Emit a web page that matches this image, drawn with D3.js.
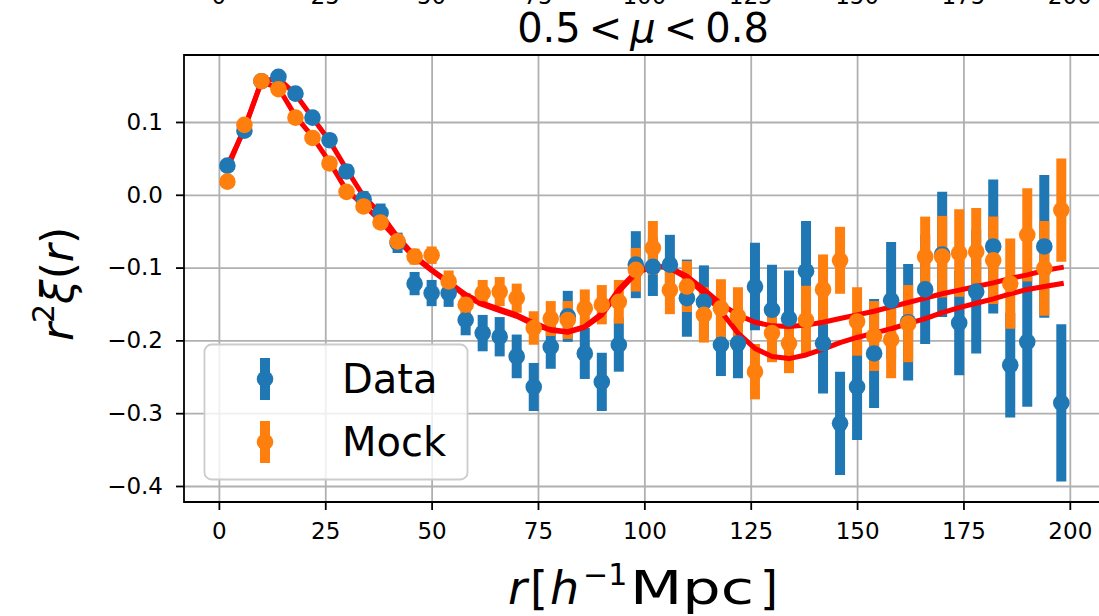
<!DOCTYPE html>
<html>
<head>
<meta charset="utf-8">
<script src="https://cdn.jsdelivr.net/npm/d3@7"></script>
<style>
  html, body { margin: 0; padding: 0; background: #ffffff; }
  svg { display: block; font-family: "DejaVu Sans", sans-serif; }
</style>
</head>
<body>
<svg id="chart" width="1099" height="616"></svg>
<script>
// Separation bins (h^-1 Mpc)
const rBins = [2, 6, 10, 14, 18, 22, 26, 30, 34, 38, 42, 46, 50, 54, 58, 62, 66, 70, 74, 78,
               82, 86, 90, 94, 98, 102, 106, 110, 114, 118, 122, 126, 130, 134, 138, 142, 146, 150, 154, 158,
               162, 166, 170, 174, 178, 182, 186, 190, 194, 198];

// Measured r^2 xi(r) and 1-sigma errors
const dataValues = [0.040, 0.088, 0.156, 0.162, 0.139, 0.106, 0.075, 0.032, -0.006, -0.025,
                    -0.066, -0.122, -0.135, -0.135, -0.172, -0.190, -0.195, -0.222, -0.264, -0.209,
                    -0.167, -0.218, -0.257, -0.206, -0.096, -0.099, -0.096, -0.142, -0.147, -0.206,
                    -0.204, -0.126, -0.158, -0.170, -0.105, -0.204, -0.314, -0.264, -0.218, -0.145,
                    -0.175, -0.130, -0.082, -0.176, -0.133, -0.071, -0.234, -0.202, -0.071, -0.286];
const dataErrors = [0.004, 0.005, 0.006, 0.006, 0.007, 0.008, 0.009, 0.010, 0.011, 0.013,
                    0.014, 0.016, 0.018, 0.019, 0.021, 0.025, 0.027, 0.030, 0.033, 0.030,
                    0.035, 0.035, 0.040, 0.037, 0.046, 0.040, 0.041, 0.053, 0.050, 0.043,
                    0.048, 0.060, 0.062, 0.066, 0.069, 0.069, 0.071, 0.073, 0.075, 0.080,
                    0.080, 0.075, 0.086, 0.072, 0.085, 0.092, 0.072, 0.089, 0.098, 0.108];

// Mock catalogue mean and errors
const mockValues = [0.018, 0.096, 0.156, 0.145, 0.106, 0.078, 0.043, 0.004, -0.016, -0.038,
                    -0.064, -0.085, -0.083, -0.119, -0.151, -0.135, -0.133, -0.142, -0.183, -0.170,
                    -0.172, -0.156, -0.151, -0.147, -0.103, -0.073, -0.131, -0.126, -0.165, -0.156,
                    -0.167, -0.243, -0.190, -0.204, -0.172, -0.130, -0.090, -0.174, -0.194, -0.199,
                    -0.177, -0.085, -0.085, -0.080, -0.078, -0.090, -0.122, -0.055, -0.101, -0.021];
const mockErrors = [0.003, 0.004, 0.004, 0.005, 0.005, 0.006, 0.006, 0.007, 0.008, 0.009,
                    0.010, 0.011, 0.012, 0.015, 0.016, 0.018, 0.020, 0.020, 0.023, 0.024,
                    0.026, 0.026, 0.027, 0.030, 0.030, 0.037, 0.033, 0.035, 0.038, 0.040,
                    0.040, 0.038, 0.040, 0.041, 0.047, 0.048, 0.046, 0.047, 0.048, 0.053,
                    0.053, 0.055, 0.056, 0.060, 0.060, 0.060, 0.062, 0.064, 0.065, 0.071];

// Best-fit model curves
const modelData = [0.040, 0.090, 0.156, 0.160, 0.138, 0.106, 0.074, 0.035, -0.002, -0.026,
                   -0.058, -0.084, -0.103, -0.120, -0.137, -0.149, -0.157, -0.165, -0.176, -0.185,
                   -0.188, -0.181, -0.163, -0.130, -0.106, -0.097, -0.101, -0.114, -0.135, -0.160,
                   -0.190, -0.211, -0.222, -0.225, -0.220, -0.212, -0.203, -0.196, -0.190, -0.184,
                   -0.177, -0.170, -0.162, -0.155, -0.149, -0.143, -0.136, -0.130, -0.126, -0.122];
const modelMock = [0.036, 0.092, 0.155, 0.147, 0.108, 0.080, 0.045, 0.006, -0.014, -0.036,
                   -0.062, -0.086, -0.104, -0.121, -0.139, -0.151, -0.159, -0.167, -0.178, -0.186,
                   -0.189, -0.182, -0.165, -0.133, -0.108, -0.098, -0.100, -0.112, -0.130, -0.150,
                   -0.165, -0.175, -0.180, -0.181, -0.179, -0.175, -0.170, -0.165, -0.160, -0.154,
                   -0.148, -0.142, -0.136, -0.131, -0.126, -0.121, -0.115, -0.110, -0.104, -0.100];

const xTicks = [0, 25, 50, 75, 100, 125, 150, 175, 200];
const yTicks = [-0.4, -0.3, -0.2, -0.1, 0.0, 0.1];
const seriesNames = ["Data", "Mock"];

const BLUE = "#1f77b4", ORANGE = "#ff7f0e", RED = "#ff0000";
const FONT = "DejaVu Sans";

const svg = d3.select("#chart");
const plot = { left: 184, right: 1103, top: 55, bottom: 502 };

const x = d3.scaleLinear().domain([-8.2, 207.8]).range([plot.left, plot.right]);
const y = d3.scaleLinear().domain([-0.422, 0.192]).range([plot.bottom, plot.top]);

svg.append("rect").attr("width", 1099).attr("height", 616).attr("fill", "#ffffff");

// Tick labels of the panel above, cut by the top edge
svg.append("g").selectAll("text").data(xTicks).join("text")
  .attr("x", d => x(d)).attr("y", 3.5)
  .attr("text-anchor", "middle")
  .attr("font-family", FONT).attr("font-size", 23).attr("fill", "#000")
  .text(d => d);

svg.append("defs").append("clipPath").attr("id", "clip")
  .append("rect")
  .attr("x", plot.left).attr("y", plot.top)
  .attr("width", plot.right - plot.left).attr("height", plot.bottom - plot.top);

// Grid
const grid = svg.append("g");
grid.append("g")
  .attr("transform", `translate(0,${plot.bottom})`)
  .call(d3.axisBottom(x).tickValues(xTicks).tickSize(-(plot.bottom - plot.top)).tickFormat(""))
  .call(g => g.select(".domain").remove())
  .call(g => g.selectAll("line").attr("stroke", "#b0b0b0").attr("stroke-width", 1.8));
grid.append("g")
  .attr("transform", `translate(${plot.left},0)`)
  .call(d3.axisLeft(y).tickValues(yTicks).tickSize(-(plot.right - plot.left)).tickFormat(""))
  .call(g => g.select(".domain").remove())
  .call(g => g.selectAll("line").attr("stroke", "#b0b0b0").attr("stroke-width", 1.8));

const marks = svg.append("g").attr("clip-path", "url(#clip)");

const dataPts = rBins.map((r, i) => ({ r, v: dataValues[i], e: dataErrors[i] }));
const mockPts = rBins.map((r, i) => ({ r, v: mockValues[i], e: mockErrors[i] }));

function errorBars(pts, color) {
  marks.append("g").selectAll("line").data(pts).join("line")
    .attr("x1", d => x(d.r)).attr("x2", d => x(d.r))
    .attr("y1", d => y(d.v - d.e)).attr("y2", d => y(d.v + d.e))
    .attr("stroke", color).attr("stroke-width", 10);
}
function markers(pts, color) {
  marks.append("g").selectAll("circle").data(pts).join("circle")
    .attr("cx", d => x(d.r)).attr("cy", d => y(d.v)).attr("r", 8.3)
    .attr("fill", color);
}

errorBars(dataPts, BLUE);
errorBars(mockPts, ORANGE);

const line = d3.line().x(d => x(d[0])).y(d => y(d[1]));
[modelData, modelMock].forEach(m => {
  marks.append("path")
    .datum(rBins.map((r, i) => [r, m[i]]))
    .attr("d", line)
    .attr("fill", "none").attr("stroke", RED).attr("stroke-width", 5)
    .attr("stroke-linejoin", "round").attr("stroke-linecap", "square");
});

markers(dataPts, BLUE);
markers(mockPts, ORANGE);

// Axes
const styleAxis = g => {
  g.selectAll("line").attr("stroke", "#000").attr("stroke-width", 1.8);
  g.selectAll("text").attr("font-family", FONT).attr("font-size", 23).attr("fill", "#000");
  g.select(".domain").remove();
};
svg.append("g")
  .attr("transform", `translate(0,${plot.bottom})`)
  .call(d3.axisBottom(x).tickValues(xTicks).tickSize(8).tickPadding(13).tickFormat(d3.format("d")))
  .call(styleAxis);
svg.append("g")
  .attr("transform", `translate(${plot.left},0)`)
  .call(d3.axisLeft(y).tickValues(yTicks).tickSize(8).tickPadding(13).tickFormat(d3.format(".1f")))
  .call(styleAxis);

// Spines
const spines = svg.append("g").attr("stroke", "#000").attr("stroke-width", 1.8);
spines.append("line").attr("x1", plot.left).attr("x2", plot.left).attr("y1", plot.top - 0.9).attr("y2", plot.bottom + 0.9);
spines.append("line").attr("x1", plot.left).attr("x2", plot.right).attr("y1", plot.bottom).attr("y2", plot.bottom);
spines.append("line").attr("x1", plot.left).attr("x2", plot.right).attr("y1", plot.top).attr("y2", plot.top);
spines.append("line").attr("x1", plot.right).attr("x2", plot.right).attr("y1", plot.top).attr("y2", plot.bottom);

// Title
const title = svg.append("text")
  .attr("x", 643).attr("y", 42).attr("text-anchor", "middle")
  .attr("font-family", FONT).attr("font-size", 40).attr("fill", "#000");
title.append("tspan").text("0.5\u2009<\u2009");
title.append("tspan").attr("font-style", "italic").text("\u03bc");
title.append("tspan").text("\u2009<\u20090.8");

// x label, laid out piece by piece like mathtext
const xl = svg.append("g")
  .attr("font-family", FONT).attr("font-size", 46).attr("fill", "#000");
const xlBase = 604;
xl.append("text").attr("x", 508).attr("y", xlBase).attr("font-style", "italic").text("r");
xl.append("text").attr("x", 530).attr("y", xlBase).text("[");
xl.append("text").attr("x", 550).attr("y", xlBase).attr("font-style", "italic").text("h");
xl.append("text").attr("x", 583).attr("y", xlBase - 19).attr("font-size", 30).text("\u22121");
xl.append("text").attr("x", 630).attr("y", xlBase)
  .attr("textLength", 124).attr("lengthAdjust", "spacingAndGlyphs").text("Mpc");
xl.append("text").attr("x", 760).attr("y", xlBase).text("]");

// y label
const yl = svg.append("text")
  .attr("transform", "translate(73,284) rotate(-90)").attr("text-anchor", "middle")
  .attr("font-family", FONT).attr("font-size", 44).attr("fill", "#000");
yl.append("tspan").attr("font-style", "italic").text("r");
yl.append("tspan").attr("font-size", 30).attr("dy", -19).text("2");
yl.append("tspan").attr("dy", 19).attr("font-style", "italic").text("\u03be");
yl.append("tspan").text("(");
yl.append("tspan").attr("font-style", "italic").text("r");
yl.append("tspan").text(")");

// Legend
const legend = svg.append("g");
legend.append("rect")
  .attr("x", 204.5).attr("y", 344.5).attr("width", 263).attr("height", 135).attr("rx", 7)
  .attr("fill", "#ffffff").attr("fill-opacity", 0.8)
  .attr("stroke", "#cccccc").attr("stroke-width", 1.8);
const legendRows = [
  { name: seriesNames[0], color: BLUE, cy: 379 },
  { name: seriesNames[1], color: ORANGE, cy: 442 }
];
legendRows.forEach(row => {
  legend.append("line")
    .attr("x1", 265).attr("x2", 265).attr("y1", row.cy - 21).attr("y2", row.cy + 21)
    .attr("stroke", row.color).attr("stroke-width", 10);
  legend.append("circle").attr("cx", 265).attr("cy", row.cy).attr("r", 8.3).attr("fill", row.color);
  legend.append("text")
    .attr("x", 342).attr("y", row.cy + 14)
    .attr("font-family", FONT).attr("font-size", 40).attr("fill", "#000")
    .text(row.name);
});
</script>
</body>
</html>
